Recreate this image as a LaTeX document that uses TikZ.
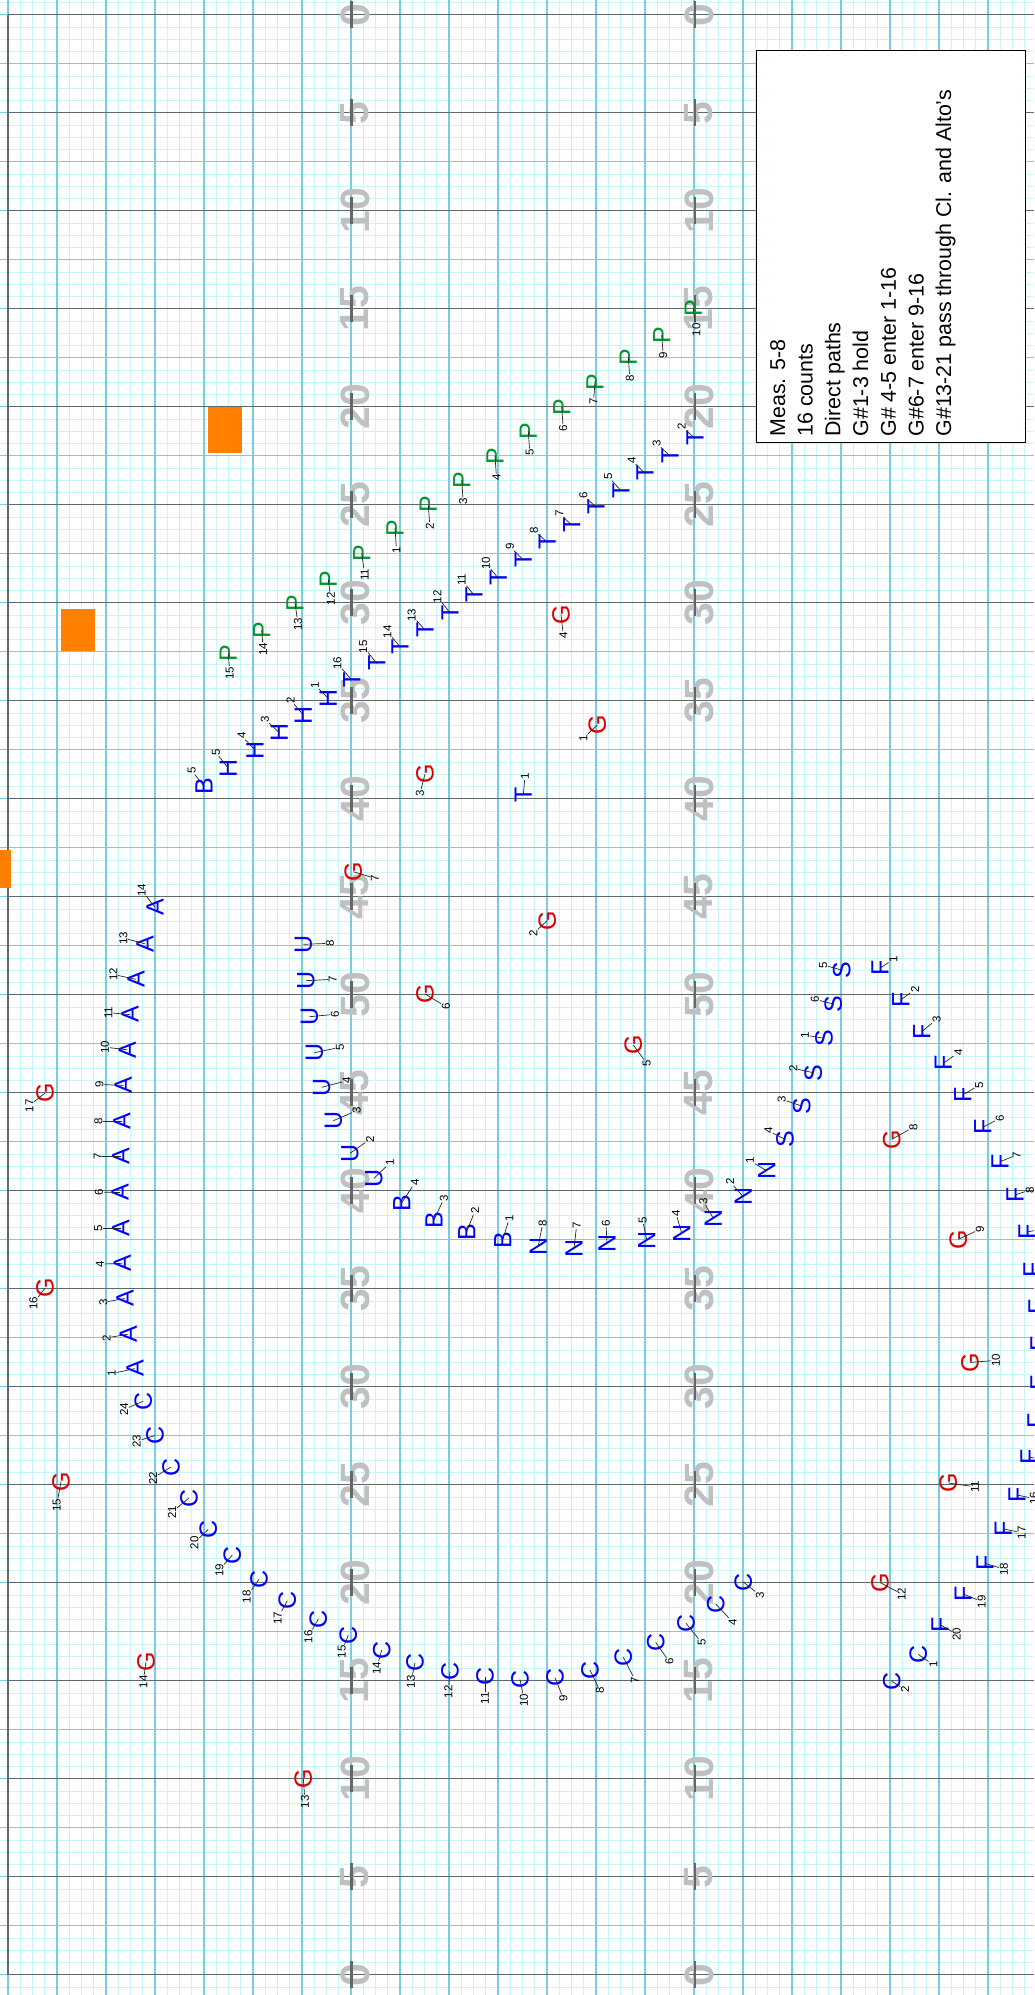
\documentclass[tikz,border=0pt]{standalone}
\usepackage{fontspec}
\setmainfont{Liberation Sans}
\usetikzlibrary{calc}
\definecolor{mkblue}{RGB}{0,0,255}
\definecolor{mkgreen}{RGB}{0,150,50}
\definecolor{mkred}{RGB}{220,0,0}
\definecolor{padorange}{RGB}{255,128,0}
\definecolor{gridlight}{RGB}{200,245,250}
\definecolor{gridmid}{RGB}{120,205,225}
\definecolor{yardgray}{RGB}{95,105,105}
\definecolor{numgray}{RGB}{192,192,192}

% one drill spot: letter, number and leader
\newcommand{\drill}[7]{%
  \node[sym,text=#3] (#1#2) at (#4,#5) {#1};
  \node[num] (#1#2n) at ($(#4,#5)+(#6,#7)$) {#2};
  \draw[lead] (#1#2.center) -- (#1#2n);
}

\begin{document}
\begin{tikzpicture}[x=1pt,y=-1pt,
  gridlt/.style={draw=gridlight,line width=0.8pt},
  gridmd/.style={draw=gridmid,line width=1.3pt},
  yardln/.style={draw=yardgray,line width=1.4pt},
  hashtick/.style={draw=yardgray,line width=2.6pt},
  yardno/.style={font=\fontsize{41}{41}\selectfont\bfseries,text=numgray,rotate=90,inner sep=0pt},
  sym/.style={font=\fontsize{25}{25}\selectfont,rotate=90,inner sep=0pt},
  num/.style={font=\fontsize{11.5}{11.5}\selectfont,rotate=90,inner sep=0.6pt},
  lead/.style={draw=black!85,line width=0.7pt},
  pad/.style={fill=padorange},
  notebox/.style={draw=black,fill=white,line width=1.2pt},
  note/.style={font=\fontsize{21.4}{21.4}\selectfont,rotate=90,anchor=base west,inner sep=0pt}
]
\useasboundingbox (0,0) rectangle (1034,1995);
\clip (0,0) rectangle (1034,1995);
\fill[white] (0,0) rectangle (1034,1995);

% grid paper
\foreach \k in {0,...,84} \draw[gridlt] ({8+12.25*\k},0) -- ({8+12.25*\k},1995);
\foreach \k in {-1,...,161} \draw[gridlt] (0,{14.7+12.25*\k}) -- (1034,{14.7+12.25*\k});
\foreach \k in {0,...,21} \draw[gridmd] ({8+49*\k},0) -- ({8+49*\k},1995);
\foreach \k in {0,...,40} \draw[gridmd] (0,{14.7+49*\k}) -- (1034,{14.7+49*\k});

% yard lines and numbers
\draw[yardln] (8,14.7) -- (8,1974.7);
\foreach \k in {0,...,20} {
  \pgfmathtruncatemacro{\yd}{5*min(\k,20-\k)}
  \draw[yardln] (8,{14.7+98*\k}) -- (1034,{14.7+98*\k});
  \node[yardno] at (355,{14.7+98*\k}) {\yd};
  \node[yardno] at (699,{14.7+98*\k}) {\yd};
  \draw[hashtick] (351.7,{1.2+98*\k}) -- (351.7,{28.2+98*\k});
  \draw[hashtick] (695,{1.2+98*\k}) -- (695,{28.2+98*\k});
}

% props
\fill[pad] (61.3,608.7) rectangle (94.7,650.7);
\fill[pad] (208.3,407) rectangle (241.7,453);
\fill[pad] (0,850) rectangle (11,888);

% notes
\draw[notebox] (756.7,50.7) rectangle (1025.7,442.3);
\foreach \t [count=\i] in {Meas. 5-8,16 counts,Direct paths,G\#1-3 hold,G\# 4-5 enter 1-16,G\#6-7 enter 9-16,G\#13-21 pass through Cl. and Alto's}
  \node[note] at ({785+27.7*(\i-1)},436.7) {\t};

% drill spots
\foreach \k/\x/\y/\dx/\dy in {1/135/1368.6/-23.3/4.9,2/128.3/1334.1/-21.6/3.8,3/125/1298.5/-21.7/3.8,
  4/122.3/1263.3/-22.3/0.8,5/120.7/1228.1/-22.4/0,6/120/1192.5/-21/-0.5,7/120.7/1156.2/-23/0,
  8/121.7/1121/-23.4/0,9/123.3/1085.4/-24/-1,10/127.3/1049.8/-22.3/-2.7,11/130/1014.6/-21.7/-2,
  12/136/979.4/-22.7/-5,13/145/943.8/-21.7/-5.8,14/155/907.4/-13.3/-17.2}
  {\drill{A}{\k}{mkblue}{\x}{\y}{\dx}{\dy}}

\foreach \k/\x/\y/\dx/\dy in {1/918.3/1654.4/15/10.3,2/891.7/1681.2/13.3/8.4,3/743.3/1582/16.7/13.3,
  4/715.7/1604/17/18,5/686/1623.3/15.7/19.4,6/655.7/1642.3/13.6/19.4,7/623.3/1657.3/11.7/22.7,
  8/590/1670/10/20.7,9/555/1677.7/8.3/20.6,10/520/1679.3/4/20.7,11/485/1676.7/0/21.6,
  12/450/1671.7/-1.7/20,13/415/1662.7/-4/19,14/381.7/1650/-5/18.3,15/348.3/1635/-6.6/16.7,
  16/318.3/1619/-10/17.7,17/287.3/1600.7/-9.6/17.6,18/259/1579.3/-12.3/17.4,19/232.3/1555/-13/15,
  20/208.3/1529.3/-14/13.4,21/189/1498/-17/14,22/171/1467/-18/11,23/155/1435.5/-18.3/5.8,
  24/143.3/1401.1/-19.3/8.4}
  {\drill{C}{\k}{mkblue}{\x}{\y}{\dx}{\dy}}

\foreach \k/\x/\y/\dx/\dy in {1/597.3/725/-14/13.3,2/547.3/920.7/-14/12.6,3/425/774/-5/19.3,
  4/561/614.3/2.3/20.7,5/633.3/1045/13.4/18.3,6/425/994/21/12.7,7/353.3/871.7/21.7/6.6,
  8/891.7/1139.3/21.6/-12,9/958.3/1239.3/21.7/-10,10/970/1362.4/26/-2,11/948.3/1483/26.7/3.8,
  12/880/1582.5/21.7/11.5,13/303.3/1778.3/1.7/23.4,14/146/1661.7/-2.7/20,15/61/1481.6/-4.3/23.4,
  16/45/1288.2/-11.7/15.3,17/45/1093/-15.7/12.6}
  {\drill{G}{\k}{mkred}{\x}{\y}{\dx}{\dy}}

\foreach \k/\x/\y/\dx/\dy in {1/395/528.3/1.5/21.5,2/428.3/504.5/1.5/21.5,3/461.7/480/1.5/21.5,
  4/495/456/1.5/21.5,5/528.3/431/1.5/21.5,6/561.7/406.7/1.5/21.5,7/595/381.7/-1.5/20,
  8/628.3/356.7/1.5/21.5,9/661.7/335/1.5/20,10/693.3/308.3/3/21.5,11/361.7/553.3/3/21.5,
  12/328.3/579.3/2.5/19.5,13/295/602.7/3/21.3,14/261.7/630/1.5/19.5,15/228.3/653.3/1.5/20}
  {\drill{P}{\k}{mkgreen}{\x}{\y}{\dx}{\dy}}

\foreach \k/\x/\y/\dx/\dy in {1/523.3/795/1.7/-19,2/695/438.3/-13.3/-11.6,3/670/456/-13.3/-12.7,
  4/645/473.3/-13.3/-13.3,5/621/490.7/-12.7/-14,6/596/507.3/-12.7/-12.3,7/571.7/525/-12.4/-11.7,
  8/547.3/542.3/-13.3/-12.3,9/523.3/560/-13.3/-13.3,10/498.3/578.3/-12.3/-15,11/474/595/-12.3/-15,
  12/450/612.7/-12.7/-16,13/425/630/-13.3/-15,14/400/646.7/-12.7/-15,15/376.7/663.3/-13.4/-16.6,
  16/351.7/680/-14.4/-16.7}
  {\drill{T}{\k}{mkblue}{\x}{\y}{\dx}{\dy}}

\foreach \k/\x/\y/\dx/\dy in {1/328.3/698.3/-13.3/-13.3,2/303.3/715/-12.6/-15,3/279.3/732.7/-14.3/-13.7,
  4/255/750/-13.3/-14.3,5/228.3/768.3/-12.3/-16}
  {\drill{H}{\k}{mkblue}{\x}{\y}{\dx}{\dy}}

\foreach \k/\x/\y/\dx/\dy in {1/502.7/1240/6.6/-21.7,2/466.7/1231.7/8.3/-21,3/434/1220/10/-21.7,
  4/401.7/1202.7/13.3/-20,5/204/786/-12.3/-15.3}
  {\drill{B}{\k}{mkblue}{\x}{\y}{\dx}{\dy}}

\foreach \k/\x/\y/\dx/\dy in {1/374/1178.3/16/-15.6,2/350/1153.3/20/-14,3/333.3/1120.7/23.4/-10,
  4/321.7/1087.3/25/-6.6,5/314.3/1052.7/25.7/-5.4,6/309.3/1016.7/25.7/-2.4,7/306/980.7/26.7/-1.4,
  8/303.3/944.3/26.7/-1}
  {\drill{U}{\k}{mkblue}{\x}{\y}{\dx}{\dy}}

\foreach \k/\x/\y/\dx/\dy in {1/766.7/1170.7/-16.7/-10,2/743.3/1196.7/-13.3/-15,3/713.3/1218.3/-10/-17,
  4/681.7/1233.3/-5.7/-20,5/646.7/1240/-4/-20,6/607/1243.3/-1/-20,7/574/1248.3/2.7/-23.3,
  8/538.3/1246/4.4/-22.7}
  {\drill{N}{\k}{mkblue}{\x}{\y}{\dx}{\dy}}

\foreach \k/\x/\y/\dx/\dy in {1/824/1038.3/-19/-3.3,2/813.3/1072.7/-20/-4.4,3/801.7/1106/-20/-6.7,
  4/785/1139.3/-16.7/-8.6,5/841.7/970/-18.4/-5,6/833.3/1004/-18.3/-4.7}
  {\drill{S}{\k}{mkblue}{\x}{\y}{\dx}{\dy}}

\foreach \k/\x/\y/\dx/\dy in {1/880/968.3/13.3/-9,2/900.7/1000/14.3/-10.7,3/921.7/1031.7/15/-12.4,
  4/943.3/1063.3/15/-10.6,5/962.7/1095/16.6/-10,6/982.7/1127.3/17.3/-9,7/1000/1161.7/16.7/-6.7,
  8/1015/1195/15/-5,9/1027/1232/15/-3,10/1032/1270/15/-2,11/1037/1307/15/0,12/1039/1344/15/0,
  13/1039/1383/15/1,14/1036/1421/15/2,15/1029/1457/16/3,16/1017/1495/17/3.5,
  17/1003.3/1528.9/18.4/3.8,18/985/1563.3/19/5.7,19/963.3/1594/18.4/7.6,20/940/1624.6/16.7/9.5}
  {\drill{F}{\k}{mkblue}{\x}{\y}{\dx}{\dy}}
\end{tikzpicture}
\end{document}
